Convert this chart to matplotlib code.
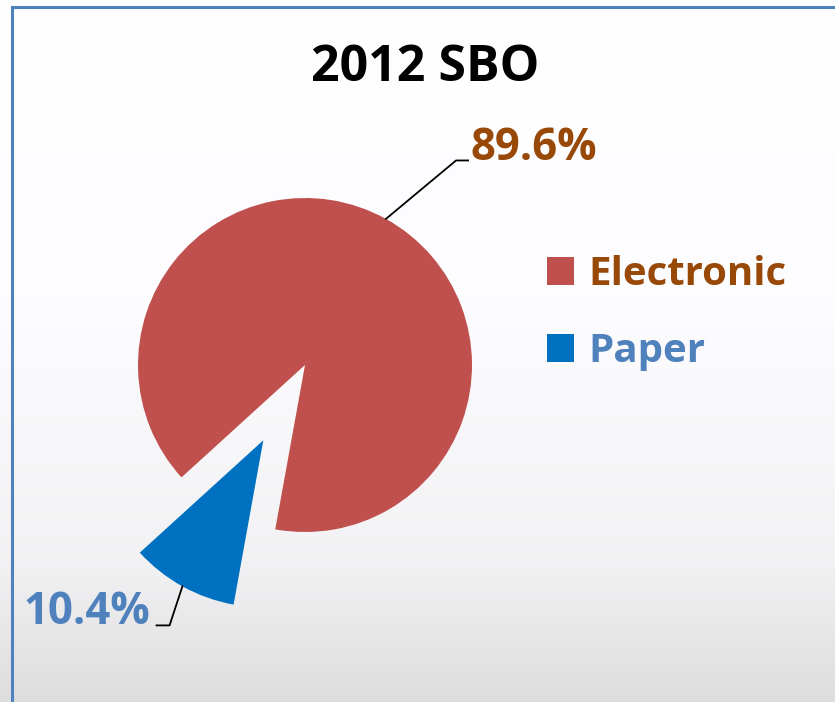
import numpy as np
import matplotlib
matplotlib.use("Agg")
import matplotlib.pyplot as plt

# data
labels = ["Electronic", "Paper"]
values = [89.6, 10.4]
pct_text = ["89.6%", "10.4%"]
title = "2012 SBO"

colors = ["#C0504D", "#0070C0"]
text_colors = ["#984807", "#4F81BD"]

plt.rcParams["font.family"] = ["Open Sans", "DejaVu Sans"]

W, H = 835, 702
fig = plt.figure(figsize=(W / 100, H / 100), dpi=100)

# background gradient + border
bg = fig.add_axes([0, 0, 1, 1], zorder=0)
rows = np.arange(H)
shade = np.interp(rows, [0, 300, 560, 702], [255, 253, 242, 221]) / 255.0
grad = np.stack([shade, shade, np.clip(shade * 1.008, 0, 1)], axis=-1)[:, None, :]
grad = np.repeat(grad, 2, axis=1)
bg.imshow(grad, aspect="auto", extent=[0, 1, 0, 1], interpolation="bilinear")
bg.plot([12 / W, 12 / W], [0, 1 - 7 / H], color="#4F81BD", lw=2.2)
bg.plot([12 / W, 1], [1 - 7 / H, 1 - 7 / H], color="#4F81BD", lw=2.2)
bg.set_xlim(0, 1)
bg.set_ylim(0, 1)
bg.axis("off")

# pie axes: 1 data unit = R px, centre at (cx, cy) px from top-left
R, cx, cy = 167.0, 305.0, 365.0
ax = fig.add_axes([0, 0, 1, 1], zorder=1)
ax.patch.set_alpha(0)
wedges, _ = ax.pie(values, colors=colors, startangle=222.3, counterclock=False,
                   explode=[0, 0.515], radius=1.0,
                   wedgeprops=dict(linewidth=0))
ax.set_aspect("auto")
ax.set_xlim(-cx / R, (W - cx) / R)
ax.set_ylim(-(H - cy) / R, cy / R)
ax.axis("off")

# data labels with leader lines
for i, w in enumerate(wedges):
    mid = np.deg2rad((w.theta1 + w.theta2) / 2)
    x0 = w.center[0] + w.r * np.cos(mid)
    y0 = w.center[1] + w.r * np.sin(mid)
    if i == 0:
        ex, ey = x0 + 0.42, y0 + 0.35
        tx = ex + 0.072
        ax.plot([x0, ex, tx], [y0, ey, ey], color="black", lw=1.3)
        ax.text(tx + 0.015, ey, pct_text[i], color=text_colors[i], fontsize=31.5,
                fontweight="bold", ha="left", va="baseline")
    else:
        ex, ey = x0 - 0.077, y0 - 0.234
        tx = ex - 0.078
        ax.plot([x0, ex, tx], [y0, ey, ey], color="black", lw=1.3)
        ax.text(tx - 0.035, ey + 0.01, pct_text[i], color=text_colors[i], fontsize=31.5,
                fontweight="bold", ha="right", va="baseline")

fig.text(425 / W, 1 - 68 / H, title, fontsize=36, fontweight="bold",
         ha="center", va="center", color="black")

leg = ax.legend(wedges, labels, loc="upper left",
                bbox_to_anchor=(547 / W, 1 - 255 / H), bbox_transform=fig.transFigure,
                frameon=False, handlelength=0.68, handleheight=0.68,
                handletextpad=0.35, labelspacing=0.95, borderpad=0, borderaxespad=0,
                labelcolor=text_colors, prop=dict(weight="bold", size=29))

fig.savefig("out.png", dpi=100)
